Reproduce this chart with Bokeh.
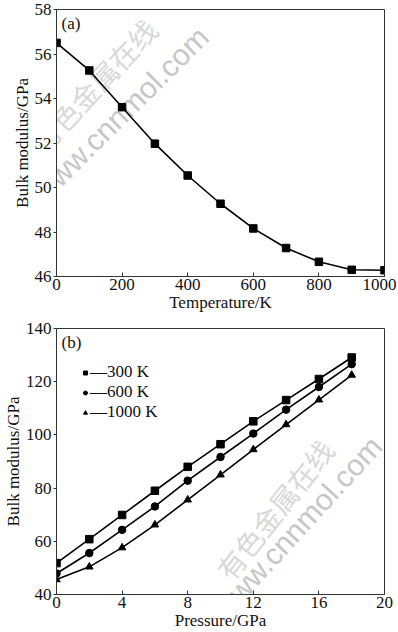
from bokeh.plotting import figure
from bokeh.layouts import column
from bokeh.models import FixedTicker, Range1d, Label, Legend, LegendItem
from bokeh.embed import file_html
from bokeh.resources import INLINE

# ---- data ----
temperature = [0, 100, 200, 300, 400, 500, 600, 700, 800, 900, 1000]
bulk_temp = [56.50, 55.26, 53.61, 51.97, 50.54, 49.27, 48.16, 47.28, 46.66, 46.30, 46.28]

pressure = [0, 2, 4, 6, 8, 10, 12, 14, 16, 18]
bulk_300 = [51.8, 60.8, 69.9, 79.0, 88.0, 96.5, 105.1, 113.1, 121.0, 129.1]
bulk_600 = [47.9, 55.6, 64.3, 73.1, 82.8, 91.7, 100.5, 109.5, 118.0, 126.6]
bulk_1000 = [45.6, 50.4, 57.6, 66.2, 75.6, 85.0, 94.5, 103.9, 113.2, 122.5]

ticks_temp = [0, 200, 400, 600, 800, 1000]
ticks_bulk_a = [46, 48, 50, 52, 54, 56, 58]
ticks_pressure = [0, 4, 8, 12, 16, 20]
ticks_bulk_b = [40, 60, 80, 100, 120, 140]
legend_labels = ["\u2014300 K", "\u2014600 K", "\u20141000 K"]

FONT = "Liberation Serif"
AX = "#333333"
W = 396


def style(p, xticks, yticks, xlabel, ylabel):
    p.xgrid.visible = False
    p.ygrid.visible = False
    p.outline_line_color = AX
    p.outline_line_width = 1
    p.xaxis.ticker = FixedTicker(ticks=xticks)
    p.yaxis.ticker = FixedTicker(ticks=yticks)
    p.xaxis.axis_label = xlabel
    p.yaxis.axis_label = ylabel
    for ax in (p.xaxis[0], p.yaxis[0]):
        ax.axis_line_color = AX
        ax.major_tick_line_color = AX
        ax.minor_tick_line_color = None
        ax.major_label_text_font = FONT
        ax.major_label_text_font_size = "17px"
        ax.major_label_text_color = "#111111"
        ax.axis_label_text_font = FONT
        ax.axis_label_text_font_size = "17px"
        ax.axis_label_text_font_style = "normal"
        ax.axis_label_text_color = "#111111"
    p.xaxis.major_tick_in = 4
    p.xaxis.major_tick_out = 0
    p.yaxis.major_tick_in = 0
    p.yaxis.major_tick_out = 3
    p.xaxis.major_label_standoff = 2
    p.yaxis.major_label_standoff = 2
    p.xaxis.axis_label_standoff = 0
    p.yaxis.axis_label_standoff = 0


# ---- panel (a) ----
pa = figure(width=W, height=318, output_backend="svg", toolbar_location=None,
            x_range=Range1d(0, 1000), y_range=Range1d(46, 58),
            min_border_left=52, min_border_right=12, min_border_top=9, min_border_bottom=42)
style(pa, ticks_temp, ticks_bulk_a, "Temperature/K", "Bulk modulus/GPa")

pa.add_layout(Label(x=114, y=54.6, text="有色金属在线", angle=0.82, text_align="center",
                    text_baseline="middle", text_font="Noto Sans CJK SC", text_font_size="28px",
                    text_color="#d8d8d8", level="underlay"))
pa.add_layout(Label(x=195, y=53.3, text="www.cnnmol.com", angle=0.78, text_align="center",
                    text_baseline="middle", text_font="Liberation Sans", text_font_size="30px",
                    text_color="#c6c6c6", level="underlay"))

pa.line(temperature, bulk_temp, line_color="black", line_width=1.6)
pa.scatter(temperature, bulk_temp, marker="square", size=7.5, fill_color="black", line_color="black")
pa.add_layout(Label(x=0, y=58, x_offset=5, y_offset=-4, text="(a)", text_baseline="top",
                    text_font=FONT, text_font_size="17px", text_color="#111111"))

# ---- panel (b) ----
pb = figure(width=W, height=314, output_backend="svg", toolbar_location=None,
            x_range=Range1d(0, 20), y_range=Range1d(40, 140),
            min_border_left=52, min_border_right=12, min_border_top=10, min_border_bottom=36)
style(pb, ticks_pressure, ticks_bulk_b, "Pressure/GPa", "Bulk modulus/GPa")

pb.add_layout(Label(x=13.3, y=72, text="有色金属在线", angle=0.9, text_align="center",
                    text_baseline="middle", text_font="Noto Sans CJK SC", text_font_size="28px",
                    text_color="#d8d8d8", level="underlay"))
pb.add_layout(Label(x=14.7, y=65.3, text="www.cnnmol.com", angle=0.83, text_align="center",
                    text_baseline="middle", text_font="Liberation Sans", text_font_size="30px",
                    text_color="#c6c6c6", level="underlay"))

items = []
for ys, mk, lab in zip([bulk_300, bulk_600, bulk_1000], ["square", "circle", "triangle"], legend_labels):
    pb.line(pressure, ys, line_color="black", line_width=1.6)
    r = pb.scatter(pressure, ys, marker=mk, size=7.5, fill_color="black", line_color="black")
    items.append(LegendItem(label=lab, renderers=[r]))

leg = Legend(items=items, location=(24, 172), glyph_width=10, glyph_height=19, label_height=19,
             label_standoff=0, padding=0, spacing=0, margin=0,
             background_fill_alpha=0, border_line_alpha=0,
             label_text_font=FONT, label_text_font_size="17px", label_text_color="#111111")
pb.add_layout(leg)
pb.add_layout(Label(x=0, y=140, x_offset=5, y_offset=-4, text="(b)", text_baseline="top",
                    text_font=FONT, text_font_size="17px", text_color="#111111"))

layout = column(pa, pb, spacing=0)
open("out.html", "w").write(file_html(layout, INLINE))
